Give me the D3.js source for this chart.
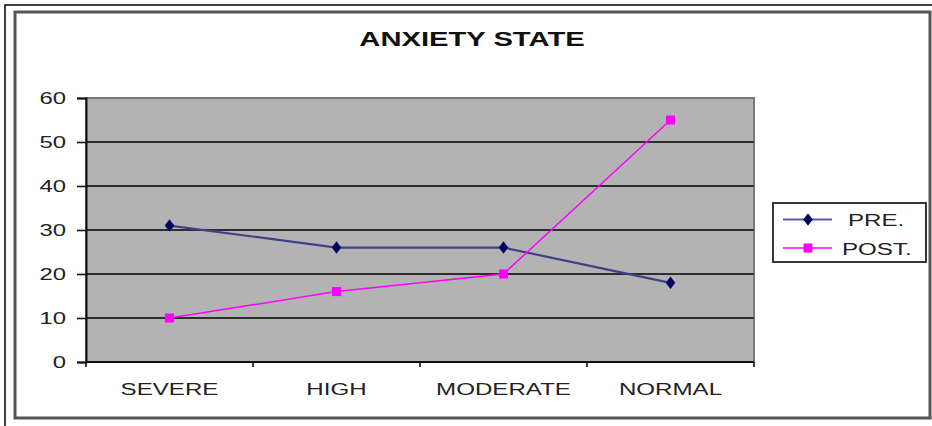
<!DOCTYPE html>
<html>
<head>
<meta charset="utf-8">
<script src="https://cdn.jsdelivr.net/npm/d3@7"></script>
<style>
  html, body { margin: 0; padding: 0; background: #fff; }
  svg { display: block; }
  text { font-family: "Liberation Sans", Arial, sans-serif; fill: #111; }
</style>
</head>
<body>
<svg id="chart" width="932" height="426"></svg>
<script>
// Anxiety state before and after
const categories = ["SEVERE", "HIGH", "MODERATE", "NORMAL"];
const preValues  = [31, 26, 26, 18];
const postValues = [10, 16, 20, 55];
const yTicks     = [0, 10, 20, 30, 40, 50, 60];
const seriesNames = ["PRE.", "POST."];

const svg = d3.select("#chart");
const W = 932, H = 426;
const plot = { left: 86, right: 754, top: 98, bottom: 362 };
const SX = 1.45; // wide lettering

// frames
svg.append("rect").attr("x", 5).attr("y", 5).attr("width", W + 10).attr("height", H + 10)
  .attr("fill", "none").attr("stroke", "#111").attr("stroke-width", 1.6);
svg.append("rect").attr("x", 15).attr("y", 12).attr("width", 915).attr("height", 406)
  .attr("fill", "#fff").attr("stroke", "#555").attr("stroke-width", 3);

const x = d3.scaleBand().domain(categories).range([plot.left, plot.right]).padding(0);
const y = d3.scaleLinear().domain([0, 60]).range([plot.bottom, plot.top]);
const cx = c => x(c) + x.bandwidth() / 2;

// plot area
svg.append("rect")
  .attr("x", plot.left).attr("y", plot.top)
  .attr("width", plot.right - plot.left).attr("height", plot.bottom - plot.top)
  .attr("fill", "#b3b3b3").attr("stroke", "#7a7a7a").attr("stroke-width", 2);

// gridlines
svg.append("g").selectAll("line").data(yTicks.filter(v => v > 0 && v < 60)).join("line")
  .attr("x1", plot.left).attr("x2", plot.right)
  .attr("y1", d => y(d)).attr("y2", d => y(d))
  .attr("stroke", "#2e2e2e").attr("stroke-width", 2);

// y axis
const yAxis = svg.append("g").attr("transform", `translate(${plot.left},0)`)
  .call(d3.axisLeft(y).tickValues(yTicks).tickSize(9).tickPadding(0));
yAxis.select(".domain").attr("stroke", "#111").attr("stroke-width", 2);
yAxis.selectAll(".tick line").attr("stroke", "#111").attr("stroke-width", 1.6);
yAxis.selectAll(".tick text")
  .attr("x", 0).attr("dy", "0.36em")
  .attr("transform", `translate(-20,0) scale(${SX},1)`)
  .style("font-size", "16.5px").style("fill", "#222");

// x axis
const xAxisG = svg.append("g").attr("transform", `translate(0,${plot.bottom})`);
xAxisG.append("line").attr("x1", plot.left).attr("x2", plot.right)
  .attr("stroke", "#111").attr("stroke-width", 2);
xAxisG.selectAll("line.tk").data(d3.range(categories.length + 1)).join("line")
  .attr("class", "tk")
  .attr("x1", i => plot.left + i * x.step()).attr("x2", i => plot.left + i * x.step())
  .attr("y1", 0).attr("y2", 5)
  .attr("stroke", "#111").attr("stroke-width", 1.6);
xAxisG.selectAll("text").data(categories).join("text")
  .attr("text-anchor", "middle")
  .attr("transform", d => `translate(${cx(d)},33) scale(1.42,1)`)
  .style("font-size", "17px").style("fill", "#222")
  .text(d => d);

// title
svg.append("text")
  .attr("text-anchor", "middle")
  .attr("transform", `translate(472,46) scale(1.46,1)`)
  .style("font-size", "20px").style("font-weight", "bold")
  .text("ANXIETY STATE");

// series
const line = d3.line().x((d, i) => cx(categories[i])).y(d => y(d));
const postColor = "#ff00ff";

svg.append("path").datum(preValues).attr("d", line)
  .attr("fill", "none").attr("stroke", "#40408a").attr("stroke-width", 2.2);
svg.append("path").datum(postValues).attr("d", line)
  .attr("fill", "none").attr("stroke", postColor).attr("stroke-width", 1.5);

svg.append("g").selectAll("path").data(preValues).join("path")
  .attr("d", d3.symbol().type(d3.symbolDiamond).size(50))
  .attr("transform", (d, i) => `translate(${cx(categories[i])},${y(d)}) scale(1.25,0.95)`)
  .attr("fill", "#000060");
svg.append("g").selectAll("rect").data(postValues).join("rect")
  .attr("x", (d, i) => cx(categories[i]) - 4.5).attr("y", d => y(d) - 4.5)
  .attr("width", 9).attr("height", 9).attr("fill", postColor);

// legend
const lg = svg.append("g");
lg.append("rect").attr("x", 773).attr("y", 203).attr("width", 153).attr("height", 59)
  .attr("fill", "#fff").attr("stroke", "#222").attr("stroke-width", 1.8);
const legendRows = [
  { name: seriesNames[0], y: 219.5, color: "#5a5aa0", textX: 848 },
  { name: seriesNames[1], y: 248, color: postColor, textX: 842 }
];
legendRows.forEach((r, i) => {
  lg.append("line").attr("x1", 783).attr("x2", 832).attr("y1", r.y).attr("y2", r.y)
    .attr("stroke", r.color).attr("stroke-width", i === 0 ? 2.2 : 1.6);
  if (i === 0) {
    lg.append("path").attr("d", d3.symbol().type(d3.symbolDiamond).size(50))
      .attr("transform", `translate(808,${r.y}) scale(1.25,0.95)`).attr("fill", "#000060");
  } else {
    lg.append("rect").attr("x", 803.5).attr("y", r.y - 4.5).attr("width", 9).attr("height", 9)
      .attr("fill", postColor);
  }
  lg.append("text").attr("text-anchor", "start")
    .attr("transform", `translate(${r.textX},${r.y + 6.5}) scale(1.42,1)`)
    .style("font-size", "17px").style("fill", "#222")
    .text(r.name);
});
</script>
</body>
</html>
